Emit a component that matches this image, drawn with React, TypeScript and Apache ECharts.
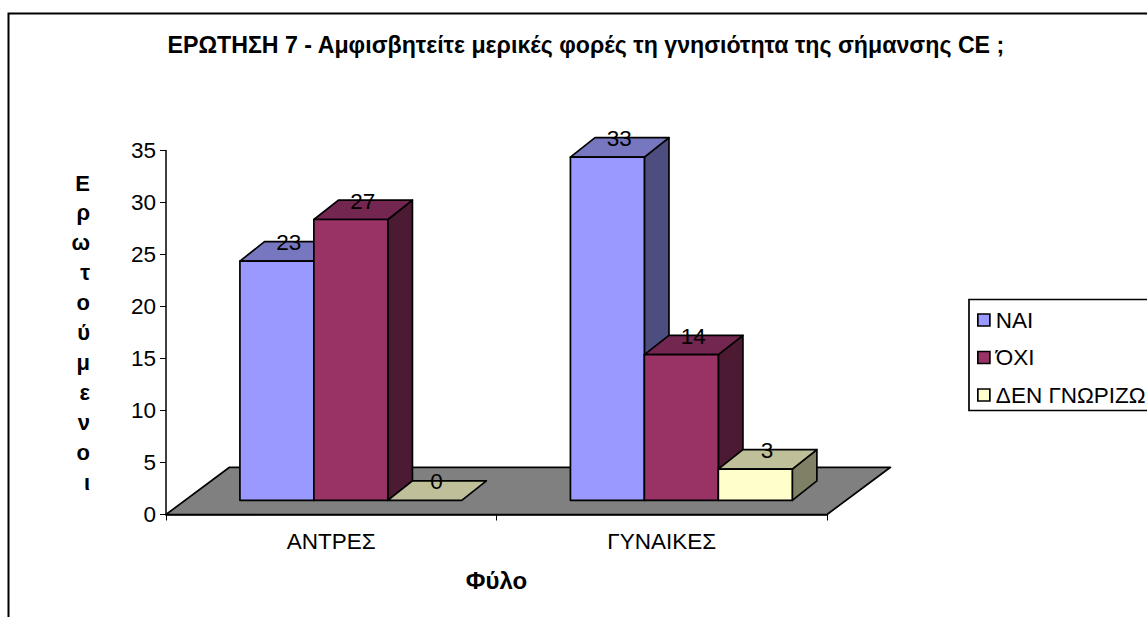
import React, { useEffect, useRef } from "react";
import * as echarts from "echarts";

const titleText = "ΕΡΩΤΗΣΗ 7 - Αμφισβητείτε μερικές φορές τη γνησιότητα της σήμανσης CE ;";
const categories = ["ΑΝΤΡΕΣ", "ΓΥΝΑΙΚΕΣ"];
const seriesNames = ["ΝΑΙ", "ΌΧΙ", "ΔΕΝ ΓΝΩΡΙΖΩ"];
const yesValues = [23, 33];
const noValues = [27, 14];
const unknownValues = [0, 3];
const frontColors = ["#9999FF", "#993366", "#FFFFCC"];
const topColors = ["#7777C0", "#732650", "#BFBF9A"];
const sideColors = ["#4D4D80", "#4D1A33", "#808066"];
const yAxisTitle = "Ερωτούμενοι";
const xAxisTitle = "Φύλο";

const FONT = '"Liberation Sans", Arial, sans-serif';
const TEXT_SIZE = 22.5;
const BAR_SHARE = 74 / 330.7;
const BAR_DX = 19.6, BAR_DY = 14.2;
const DEPTH_DX = 24.6, DEPTH_DY = 19.4;
const FLOOR_DX = 63.5, FLOOR_DY = 47.2;
const STROKE = { stroke: "#000", lineWidth: 1.7, lineJoin: "round" as const };

function barRenderer(seriesIndex: number) {
  return (_params: any, api: any) => {
    const cat = api.value(0);
    const val = api.value(1);
    const band = api.size([1, 0])[0];
    const w = band * BAR_SHARE;
    const base = api.coord([cat, 0]);
    const top = api.coord([cat, val]);
    const x0 = base[0] - (1.5 * w) + seriesIndex * w + BAR_DX;
    const x1 = x0 + w;
    const yb = base[1] - BAR_DY;
    const yt = top[1] - BAR_DY;
    const children: any[] = [];
    if (val > 0) {
      children.push({
        type: "polygon",
        shape: { points: [[x1, yb], [x1 + DEPTH_DX, yb - DEPTH_DY], [x1 + DEPTH_DX, yt - DEPTH_DY], [x1, yt]] },
        style: { fill: sideColors[seriesIndex], ...STROKE },
      });
    }
    children.push({
      type: "polygon",
      shape: { points: [[x0, yt], [x0 + DEPTH_DX, yt - DEPTH_DY], [x1 + DEPTH_DX, yt - DEPTH_DY], [x1, yt]] },
      style: { fill: topColors[seriesIndex], ...STROKE },
    });
    if (val > 0) {
      children.push({
        type: "rect",
        shape: { x: x0, y: yt, width: w, height: yb - yt },
        style: { fill: frontColors[seriesIndex], ...STROKE },
      });
    }
    children.push({
      type: "text",
      style: {
        text: String(val),
        x: (x0 + x1 + DEPTH_DX) / 2 - 0.5,
        y: yt - DEPTH_DY + 1,
        align: "center",
        verticalAlign: "middle",
        font: `${TEXT_SIZE}px ${FONT}`,
        fill: "#000",
      },
    });
    return { type: "group", children };
  };
}

function floorRenderer(_params: any, api: any) {
  const band = api.size([1, 0])[0];
  const l = api.coord([0, 0]);
  const r = api.coord([categories.length - 1, 0]);
  const xl = l[0] - band / 2;
  const xr = r[0] + band / 2;
  const y = l[1];
  return {
    type: "polygon",
    shape: { points: [[xl, y], [xl + FLOOR_DX, y - FLOOR_DY], [xr + FLOOR_DX, y - FLOOR_DY], [xr, y]] },
    style: { fill: "#808080", ...STROKE },
  };
}

export default function App() {
  const ref = useRef<HTMLDivElement>(null);
  useEffect(() => {
    const chart = echarts.init(ref.current!, undefined, { renderer: "svg" });
    const valueSets = [yesValues, noValues, unknownValues];
    chart.setOption({
      animation: false,
      backgroundColor: "#fff",
      textStyle: { fontFamily: FONT },
      title: {
        text: titleText,
        left: 167.5,
        top: 35,
        padding: 0,
        textStyle: { fontFamily: FONT, fontSize: 23.2, fontWeight: "bold", color: "#000", lineHeight: 20 },
      },
      graphic: [
        {
          type: "polyline",
          shape: { points: [[8.5, 640], [8.5, 13.5], [1160, 13.5]] },
          style: { stroke: "#000", lineWidth: 2, fill: "none" },
          silent: true,
        },
      ],
      legend: {
        orient: "vertical",
        left: 969,
        top: 299.5,
        padding: [9, 12, 4, 8],
        borderColor: "#000",
        borderWidth: 1.7,
        itemGap: 14.5,
        itemWidth: 12,
        itemHeight: 12,
        icon: "rect",
        textStyle: { fontFamily: FONT, fontSize: TEXT_SIZE, color: "#000", lineHeight: 15, padding: [0, 0, 0, 1] },
        data: seriesNames.map((name, i) => ({
          name,
          itemStyle: { color: frontColors[i], borderColor: "#000", borderWidth: 1.7 },
        })),
      },
      grid: { left: 166, top: 150.5, width: 661, height: 364, containLabel: false },
      xAxis: {
        type: "category",
        data: categories,
        boundaryGap: true,
        axisLine: { lineStyle: { color: "#000", width: 1.5 } },
        axisTick: { show: true, length: 6, alignWithLabel: false, lineStyle: { color: "#000", width: 1 } },
        axisLabel: { color: "#000", fontFamily: FONT, fontSize: TEXT_SIZE, margin: 15 },
        name: xAxisTitle,
        nameLocation: "middle",
        nameGap: 54,
        nameTextStyle: { color: "#000", fontFamily: FONT, fontSize: 24, fontWeight: "bold" },
      },
      yAxis: {
        type: "value",
        min: 0,
        max: 35,
        interval: 5,
        splitLine: { show: false },
        axisLine: { show: true, lineStyle: { color: "#000", width: 1.5 } },
        axisTick: { show: true, length: 6, lineStyle: { color: "#000", width: 1 } },
        axisLabel: { color: "#000", fontFamily: FONT, fontSize: TEXT_SIZE, margin: 10, padding: [3, 0, 0, 0] },
        name: yAxisTitle.split("").join("\n"),
        nameLocation: "middle",
        nameGap: 76,
        nameRotate: 0,
        nameTextStyle: { color: "#000", fontFamily: FONT, fontSize: 22, fontWeight: "bold", lineHeight: 29.9 },
      },
      series: [
        {
          type: "custom",
          name: "floor",
          silent: true,
          clip: false,
          renderItem: floorRenderer,
          data: [[0, 0]],
          encode: { x: 0, y: 1 },
          z: 1,
        },
        ...seriesNames.map((name, i) => ({
          type: "custom",
          name,
          clip: false,
          renderItem: barRenderer(i),
          data: categories.map((_, c) => [c, valueSets[i][c]]),
          encode: { x: 0, y: 1 },
          itemStyle: { color: frontColors[i] },
          z: 2 + i,
        })),
      ],
    });
    return () => chart.dispose();
  }, []);
  return <div ref={ref} style={{ position: "fixed", left: 0, top: 0, width: 1147, height: 617 }} />;
}
